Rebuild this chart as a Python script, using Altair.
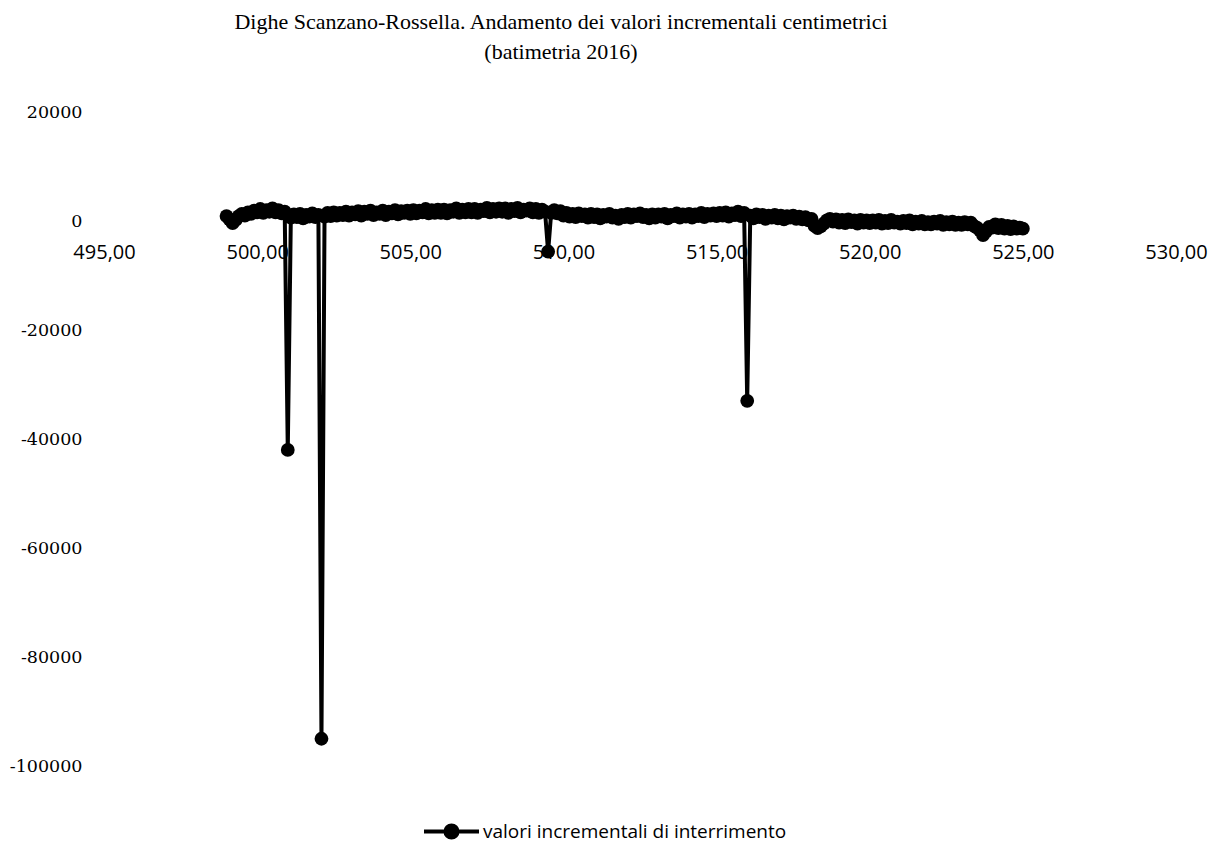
import altair as alt
import pandas as pd

TITLE = ["Dighe Scanzano-Rossella. Andamento dei valori incrementali centimetrici",
         "(batimetria 2016)"]
SERIES = "valori incrementali di interrimento"
X_START = 499.0
X_STEP = 0.1
X_TICKS = [495, 500, 505, 510, 515, 520, 525, 530]
Y_TICKS = [20000, 0, -20000, -40000, -60000, -80000, -100000]

# one row per metre (x.0 ... x.9)
values = [
    900, 300, -400, 200, 900, 1300, 1000, 1600, 1300, 1900,          # 499
    1600, 2200, 1500, 2000, 1700, 2300, 1600, 2000, 1400, 1700,      # 500
    -42000, 600, 1200, 700, 1300, 500, 1100, 800, 1400, 700,         # 501
    1100, -95000, 800, 1500, 900, 1600, 1000, 1500, 1100, 1700,      # 502
    1000, 1600, 1200, 1800, 1000, 1700, 1300, 1900, 1100, 1600,      # 503
    1300, 1900, 1100, 1700, 1400, 2000, 1200, 1800, 1500, 1900,      # 504
    1300, 2000, 1400, 1900, 1600, 2200, 1400, 2000, 1500, 2100,      # 505
    1500, 2100, 1400, 2000, 1700, 2300, 1500, 2100, 1600, 2200,      # 506
    1600, 2200, 1500, 2100, 1800, 2400, 1600, 2200, 1700, 2300,      # 507
    1700, 2300, 1500, 2200, 1800, 2400, 1600, 2100, 1900, 2300,      # 508
    1600, 2200, 1500, 2100, 1700, -5600, 1500, 2000, 1400, 1800,     # 509
    1000, 1500, 800, 1300, 700, 1400, 900, 1200, 600, 1300,          # 510
    700, 1200, 500, 1100, 800, 1300, 600, 1000, 400, 1100,           # 511
    700, 1300, 600, 1200, 900, 1400, 700, 1100, 500, 1200,           # 512
    600, 1200, 800, 1300, 500, 1100, 900, 1400, 600, 1200,           # 513
    800, 1300, 600, 1200, 900, 1500, 700, 1300, 1000, 1400,          # 514
    900, 1500, 1000, 1600, 800, 1400, 1100, 1700, 900, 1500,         # 515
    -33000, 1000, 500, 1200, 700, 1100, 400, 1000, 600, 1100,        # 516
    500, 1000, 300, 900, 600, 1000, 400, 800, 300, 700,              # 517
    100, 400, -900, -1300, -1000, -500, 100, 400, -100, 300,         # 518
    -300, 200, -400, 300, -200, 100, -500, 200, -300, 100,           # 519
    -400, 100, -300, 200, -500, 0, -400, 200, -300, -100,            # 520
    -500, 0, -400, 100, -600, -100, -500, 0, -600, -200,             # 521
    -600, -100, -500, 0, -700, -200, -600, -100, -700, -300,         # 522
    -700, -200, -600, -300, -900, -1200, -1700, -2600, -1900, -1100, # 523
    -1200, -600, -1300, -700, -1400, -900, -1500, -1000, -1400, -1200,  # 524
    -1400,                                                           # 525
]
quota = [round(X_START + i * X_STEP, 1) for i in range(len(values))]

df = pd.DataFrame({"quota": quota, "valore": values, "serie": SERIES})

W, H = 1072, 654
LEGEND_PATH = ("M-1,0L1,0M-0.22,0A0.22,0.22,0,1,1,0.22,0"
               "A0.22,0.22,0,1,1,-0.22,0Z")

chart = (
    alt.Chart(df)
    .mark_line(
        strokeWidth=4,
        point=alt.OverlayMarkDef(filled=True, size=190, opacity=1),
    )
    .encode(
        x=alt.X(
            "quota:Q",
            scale=alt.Scale(domain=[495, 530], nice=False, zero=False),
            axis=alt.Axis(
                values=X_TICKS,
                labelExpr="replace(format(datum.value, '.2f'), '.', ',')",
                orient="bottom",
                offset=-(H * 5 / 6),
                domain=False,
                ticks=False,
                tickSize=0,
                grid=False,
                labelPadding=21,
                labelFont="Open Sans",
                labelFontSize=20,
                labelColor="black",
                labelFlush=False,
                labelOverlap=False,
                title=None,
            ),
        ),
        y=alt.Y(
            "valore:Q",
            scale=alt.Scale(domain=[-100000, 20000], nice=False, zero=False),
            axis=alt.Axis(
                values=Y_TICKS,
                labelExpr="'' + datum.value",
                domain=False,
                ticks=False,
                tickSize=0,
                grid=False,
                labelPadding=22,
                labelFont="DejaVu Serif",
                labelFontSize=17.5,
                labelColor="black",
                labelOverlap=False,
                title=None,
            ),
        ),
        color=alt.Color(
            "serie:N",
            scale=alt.Scale(range=["black"]),
            legend=alt.Legend(
                title=None,
                orient="none",
                legendX=318,
                legendY=690,
                padding=0,
                symbolType=LEGEND_PATH,
                symbolSize=3025,
                symbolStrokeWidth=4,
                symbolFillColor="black",
                symbolStrokeColor="black",
                labelFont="Open Sans",
                labelFontSize=19,
                labelColor="black",
                labelOffset=2,
                labelLimit=0,
            ),
        ),
    )
    .properties(
        width=W,
        height=H,
        autosize=alt.AutoSizeParams(type="none"),
        padding={"left": 96, "top": 104, "right": 35, "bottom": 85},
        title=alt.TitleParams(
            text=TITLE,
            font="Liberation Serif",
            fontSize=22,
            fontWeight="normal",
            color="black",
            anchor="middle",
            dx=-79,
            offset=39,
            lineHeight=30,
        ),
        background="white",
    )
    .configure_view(stroke=None)
)

chart.save("out.html", embed_options={"renderer": "svg", "actions": False})
